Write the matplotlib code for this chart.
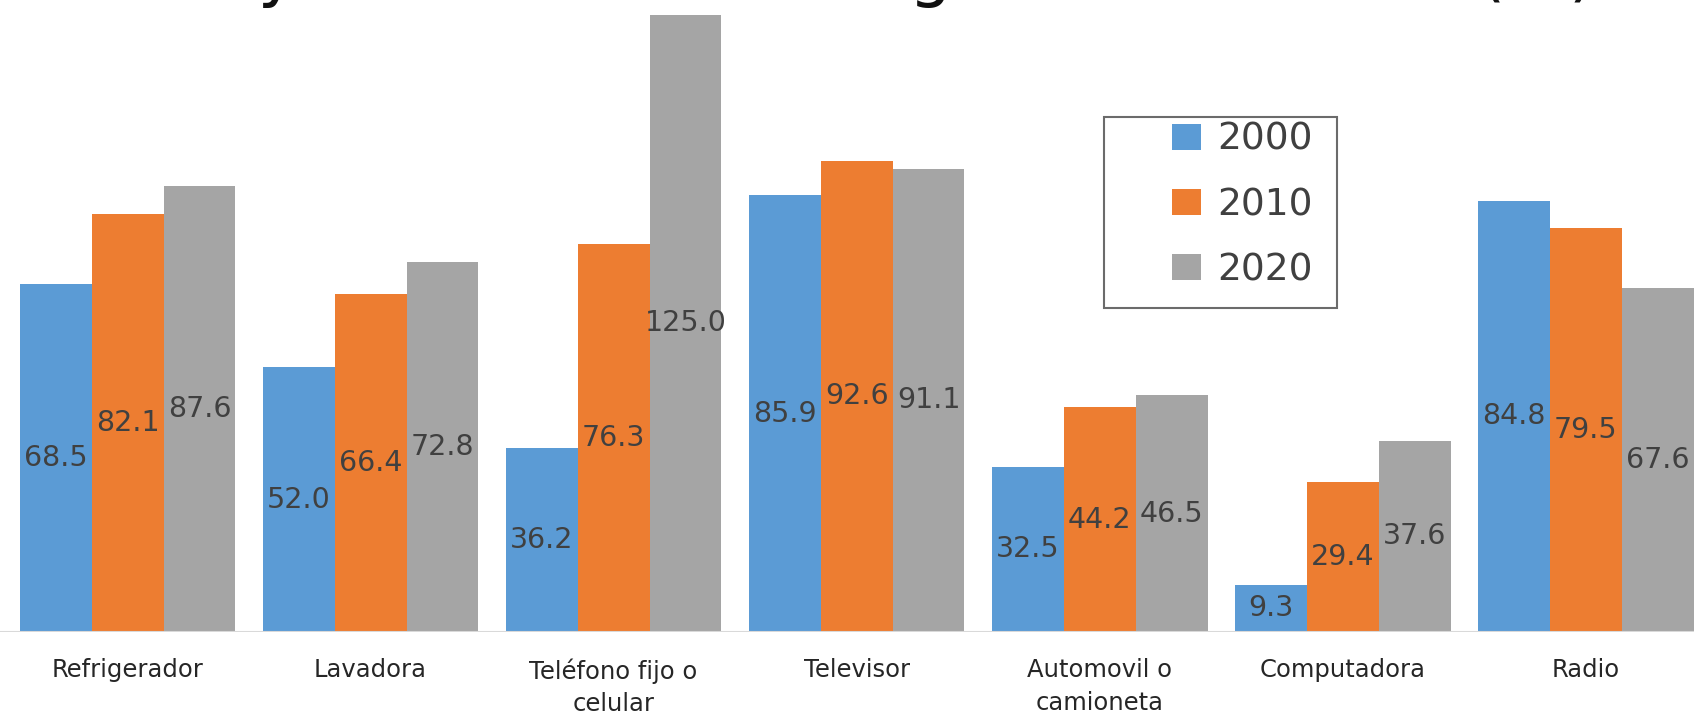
import matplotlib.pyplot as plt
from matplotlib.patches import Rectangle
import numpy as np

# Data
categories = ["Refrigerador", "Lavadora", "Teléfono fijo o\ncelular", "Televisor",
              "Automovil o\ncamioneta", "Computadora", "Radio"]
years = ["2000", "2010", "2020"]
v2000 = [68.5, 52.0, 36.2, 85.9, 32.5, 9.3, 84.8]
v2010 = [82.1, 66.4, 76.3, 92.6, 44.2, 29.4, 79.5]
v2020 = [87.6, 72.8, 125.0, 91.1, 46.5, 37.6, 67.6]
title_text = "Bienes y enseres en los hogares de México (%)"

colors = ["#5B9BD5", "#ED7D31", "#A5A5A5"]
W, H = 1694, 717

fig = plt.figure(figsize=(W / 100, H / 100), dpi=100)
ax = fig.add_axes([0.0, 0.1186, 1.0, 0.8605])

x = np.arange(len(categories))
width = 0.296
ymax = 121.3
series = [v2000, v2010, v2020]
for i, vals in enumerate(series):
    bars = ax.bar(x + (i - 1) * width, vals, width, color=colors[i], label=years[i])
    for rect, v in zip(bars, vals):
        h = min(v, ymax)
        ax.text(rect.get_x() + rect.get_width() / 2, h / 2, f"{v:.1f}",
                ha="center", va="center", fontsize=20.5, color="#404040")

ax.set_xlim(-0.525, 6.446)
ax.set_ylim(0, ymax)
ax.axhline(0, color="#D9D9D9", lw=1.5)
for s in ax.spines.values():
    s.set_visible(False)
ax.set_yticks([])
ax.set_xticks(x)
ax.set_xticklabels(categories, fontsize=17.5, color="#262626", linespacing=1.45)
ax.tick_params(axis="x", length=0, pad=19)

# legend (frame drawn separately so the left padding can be wider)
leg = fig.legend(loc="upper left", bbox_to_anchor=(1172 / W, 1 - 122 / H),
                 fontsize=27, handlelength=0.78, handleheight=0.68, handletextpad=0.42,
                 labelspacing=0.78, borderpad=0, borderaxespad=0, frameon=False,
                 labelcolor="#404040")
fig.patches.append(Rectangle((1104 / W, 1 - 308 / H), 233 / W, 191 / H,
                             transform=fig.transFigure, fill=False,
                             edgecolor="#6B6B6B", lw=1.5))

# title, mostly cut off at the top edge as in the original
fig.text(0.474, 1.0084, title_text, ha="center", va="baseline", fontsize=48.4, color="#111111")

fig.savefig("out.png", dpi=100)
